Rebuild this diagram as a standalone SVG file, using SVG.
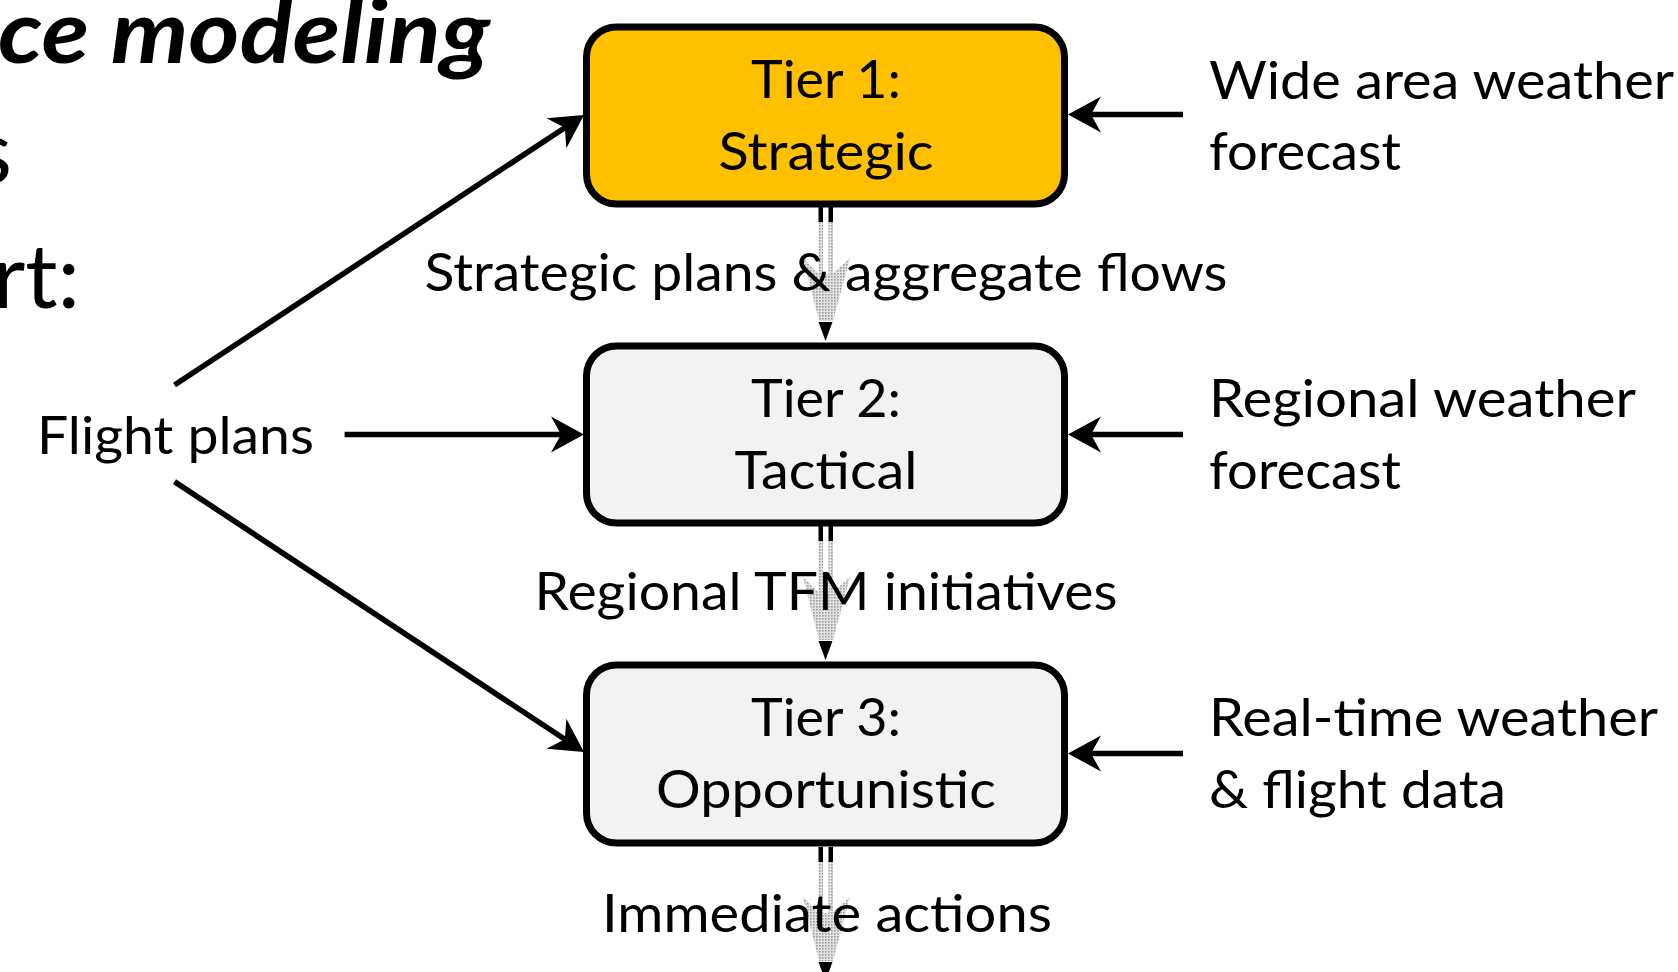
<svg xmlns="http://www.w3.org/2000/svg" width="1678" height="972" viewBox="0 0 1678 972">
<style>
.t{font-family:Lato,"Open Sans","Liberation Sans",sans-serif;font-size:53px;fill:#000}
.big{font-family:Lato,"Open Sans","Liberation Sans",sans-serif;font-size:90px;fill:#000}
.title{font-family:Lato,"Open Sans","Liberation Sans",sans-serif;font-size:88px;font-weight:bold;font-style:italic;fill:#000}
.box{stroke:#000;stroke-width:7}
.ln{stroke:#000;stroke-width:5.5;fill:none}
.bar{fill:#000}
.band{fill:url(#dots)}
.head{fill:#000}
</style>
<defs>
<pattern id="dots" width="3" height="3" patternUnits="userSpaceOnUse">
<rect width="3" height="3" fill="#e2e2e2"/>
<rect width="1.6" height="1.6" fill="#9c9c9c"/>
</pattern>
<marker id="stealth" markerUnits="userSpaceOnUse" markerWidth="40" markerHeight="40" refX="0" refY="0" orient="auto" overflow="visible">
<path d="M23,0 L-10,-18 L0,0 L-10,18 Z" fill="#000"/>
</marker>
</defs>
<rect width="1678" height="972" fill="#fff"/>

<g id="slide-text">
<text class="title" x="-2" y="63" textLength="492" lengthAdjust="spacingAndGlyphs">ce modeling</text>
<text class="big" x="12" y="183" text-anchor="end">s</text>
<text class="big" x="80" y="308" text-anchor="end">rt:</text>
</g>

<g id="connectors">
<line class="ln" x1="174.5" y1="385" x2="564.8" y2="127.7" marker-end="url(#stealth)"/>
<line class="ln" x1="344.6" y1="434.5" x2="561" y2="434.5" marker-end="url(#stealth)"/>
<line class="ln" x1="174.5" y1="481.6" x2="564.8" y2="739.3" marker-end="url(#stealth)"/>
<line class="ln" x1="1183" y1="114.5" x2="1091" y2="114.5" marker-end="url(#stealth)"/>
<line class="ln" x1="1183" y1="434.5" x2="1091" y2="434.5" marker-end="url(#stealth)"/>
<line class="ln" x1="1183" y1="753.5" x2="1091" y2="753.5" marker-end="url(#stealth)"/>

<g id="flow1">
<rect class="band" x="818.5" y="222" width="4.5" height="86"/>
<rect class="band" x="828.5" y="222" width="4.5" height="86"/>
<polygon class="band" points="803,258 819,274 832,274 850,258 833,321 819,321"/>
<rect class="bar" x="818.5" y="207" width="4.5" height="15"/>
<rect class="bar" x="828.5" y="207" width="4.5" height="15"/>
<polygon class="head" points="818.5,322 832.5,322 825.5,341"/>
</g>
<g id="flow2">
<rect class="band" x="818.5" y="541" width="4.5" height="86"/>
<rect class="band" x="828.5" y="541" width="4.5" height="86"/>
<polygon class="band" points="803,577 819,593 832,593 850,577 833,640 819,640"/>
<rect class="bar" x="818.5" y="526" width="4.5" height="15"/>
<rect class="bar" x="828.5" y="526" width="4.5" height="15"/>
<polygon class="head" points="818.5,641 832.5,641 825.5,660"/>
</g>
<g id="flow3">
<rect class="band" x="818.5" y="862" width="4.5" height="86"/>
<rect class="band" x="828.5" y="862" width="4.5" height="86"/>
<polygon class="band" points="803,897 819,913 832,913 850,897 833,961 819,961"/>
<rect class="bar" x="818.5" y="847" width="4.5" height="15"/>
<rect class="bar" x="828.5" y="847" width="4.5" height="15"/>
<polygon class="head" points="818.5,962 832.5,962 825.5,981"/>
</g>

<text class="t" x="826" y="291" text-anchor="middle" textLength="803" lengthAdjust="spacingAndGlyphs">Strategic plans &amp; aggregate flows</text>
<text class="t" x="826" y="610" text-anchor="middle" textLength="583" lengthAdjust="spacingAndGlyphs">Regional TFM initiatives</text>
<text class="t" x="827" y="932" text-anchor="middle" textLength="450" lengthAdjust="spacingAndGlyphs">Immediate actions</text>
</g>

<g id="tier1">
<rect class="box" x="586.5" y="27" width="478" height="177" rx="30" fill="#FFC000"/>
<text class="t" x="826" y="98" text-anchor="middle" textLength="150" lengthAdjust="spacingAndGlyphs">Tier 1:</text>
<text class="t" x="826" y="170" text-anchor="middle" textLength="215" lengthAdjust="spacingAndGlyphs">Strategic</text>
</g>
<g id="tier2">
<rect class="box" x="586.5" y="346" width="478" height="177" rx="30" fill="#F2F2F2"/>
<text class="t" x="826" y="417" text-anchor="middle" textLength="150" lengthAdjust="spacingAndGlyphs">Tier 2:</text>
<text class="t" x="826" y="489" text-anchor="middle" textLength="183" lengthAdjust="spacingAndGlyphs">Tactical</text>
</g>
<g id="tier3">
<rect class="box" x="586.5" y="665" width="478" height="178" rx="30" fill="#F2F2F2"/>
<text class="t" x="826" y="736" text-anchor="middle" textLength="150" lengthAdjust="spacingAndGlyphs">Tier 3:</text>
<text class="t" x="826" y="808" text-anchor="middle" textLength="340" lengthAdjust="spacingAndGlyphs">Opportunistic</text>
</g>

<g id="flight-plans">
<text class="t" x="37" y="454" textLength="277" lengthAdjust="spacingAndGlyphs">Flight plans</text>
</g>
<g id="wide-area">
<text class="t" x="1209" y="99" textLength="465" lengthAdjust="spacingAndGlyphs">Wide area weather</text>
<text class="t" x="1209" y="170" textLength="192" lengthAdjust="spacingAndGlyphs">forecast</text>
</g>
<g id="regional">
<text class="t" x="1209" y="417" textLength="427" lengthAdjust="spacingAndGlyphs">Regional weather</text>
<text class="t" x="1209" y="489" textLength="192" lengthAdjust="spacingAndGlyphs">forecast</text>
</g>
<g id="realtime">
<text class="t" x="1209" y="736" textLength="449" lengthAdjust="spacingAndGlyphs">Real-time weather</text>
<text class="t" x="1209" y="808" textLength="297" lengthAdjust="spacingAndGlyphs">&amp; flight data</text>
</g>
</svg>
